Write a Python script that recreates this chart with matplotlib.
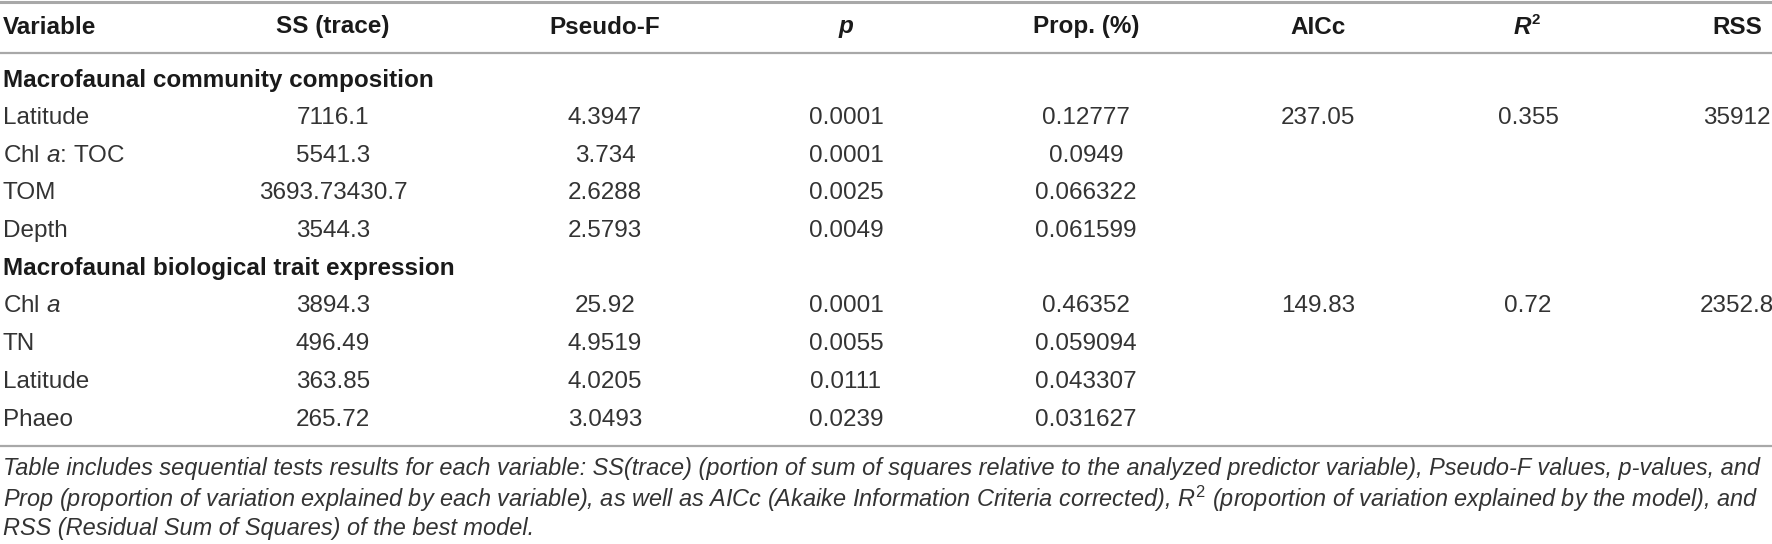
import matplotlib
matplotlib.use('Agg')
import matplotlib.pyplot as plt

plt.rcParams['font.family'] = ['Liberation Sans', 'DejaVu Sans']
plt.rcParams['mathtext.fontset'] = 'custom'
plt.rcParams['mathtext.rm'] = 'Liberation Sans'
plt.rcParams['mathtext.it'] = 'Liberation Sans:italic'
plt.rcParams['mathtext.bf'] = 'Liberation Sans:bold'

# table content
columns = ['Variable', 'SS (trace)', 'Pseudo-F', 'p', 'Prop. (%)', 'AICc', 'R2', 'RSS']
sections = ['Macrofaunal community composition', 'Macrofaunal biological trait expression']

comp_vars = ['Latitude', 'Chl $\\mathit{a}$: TOC', 'TOM', 'Depth']
comp_ss = ['7116.1', '5541.3', '3693.73430.7', '3544.3']
comp_f = ['4.3947', '3.734', '2.6288', '2.5793']
comp_p = ['0.0001', '0.0001', '0.0025', '0.0049']
comp_prop = ['0.12777', '0.0949', '0.066322', '0.061599']
comp_model = ['237.05', '0.355', '35912']

trait_vars = ['Chl $\\mathit{a}$', 'TN', 'Latitude', 'Phaeo']
trait_ss = ['3894.3', '496.49', '363.85', '265.72']
trait_f = ['25.92', '4.9519', '4.0205', '3.0493']
trait_p = ['0.0001', '0.0055', '0.0111', '0.0239']
trait_prop = ['0.46352', '0.059094', '0.043307', '0.031627']
trait_model = ['149.83', '0.72', '2352.8']

caption = [
    'Table includes sequential tests results for each variable: SS(trace) (portion of sum of squares relative to the '
    'analyzed predictor variable), Pseudo-F values, p-values, and',
    'Prop (proportion of variation explained by each variable), as well as AICc (Akaike Information Criteria '
    'corrected), $R^{2}$ (proportion of variation explained by the model), and',
    'RSS (Residual Sum of Squares) of the best model.',
]

W, H = 1772, 544
fig = plt.figure(figsize=(W / 100, H / 100), dpi=100)
ax = fig.add_axes([0, 0, 1, 1])
ax.set_xlim(0, W)
ax.set_ylim(H, 0)
ax.axis('off')

col_x = [3, 333, 605, 846, 1086, 1318, 1528, 1737]
fs = 17.5
body_c = '#333333'
head_c = '#1a1a1a'
rule_c = '#a8a8a8'

# rules
ax.axhline(1.5, color=rule_c, lw=2.2)
ax.axhline(53, color=rule_c, lw=1.6)
ax.axhline(446, color=rule_c, lw=1.6)

# header
head_y = 27
for i, name in enumerate(columns):
    if name == 'R2':
        ax.text(col_x[i] + 3, head_y, 'R', ha='right', va='center', fontsize=fs,
                fontweight='bold', fontstyle='italic', color=head_c)
        ax.text(col_x[i] + 4, head_y - 7, '2', ha='left', va='center', fontsize=fs * 0.62,
                fontweight='bold', color=head_c)
    elif name == 'p':
        ax.text(col_x[i], head_y, name, ha='center', va='center', fontsize=fs,
                fontweight='bold', fontstyle='italic', color=head_c)
    else:
        ax.text(col_x[i], head_y, name, ha='left' if i == 0 else 'center', va='center',
                fontsize=fs, fontweight='bold', color=head_c)

# body rows
y0, step = 80, 37.75
groups = [
    (sections[0], comp_vars, comp_ss, comp_f, comp_p, comp_prop, comp_model),
    (sections[1], trait_vars, trait_ss, trait_f, trait_p, trait_prop, trait_model),
]
row = 0
for title, vars_, ss, f, p, prop, model in groups:
    ax.text(col_x[0], y0 + row * step, title, ha='left', va='center', fontsize=fs,
            fontweight='bold', color=head_c)
    row += 1
    for j in range(len(vars_)):
        y = y0 + row * step
        cells = [ss[j], f[j], p[j], prop[j]]
        if j == 0:
            cells += model
        ax.text(col_x[0], y, vars_[j], ha='left', va='center', fontsize=fs, color=body_c)
        for k, val in enumerate(cells):
            ax.text(col_x[k + 1], y, val, ha='center', va='center', fontsize=fs, color=body_c)
        row += 1

# caption, fitted to the table width
cap_y = [469, 499, 528]
texts = [ax.text(3, cy, line, ha='left', va='center', fontsize=14, fontstyle='italic',
                 color=body_c) for cy, line in zip(cap_y, caption)]
renderer = fig.canvas.get_renderer()
w = texts[0].get_window_extent(renderer).width
scale = (1766 - 3) / w
for t in texts:
    t.set_fontsize(14 * scale)

fig.savefig('out.png', dpi=100)
